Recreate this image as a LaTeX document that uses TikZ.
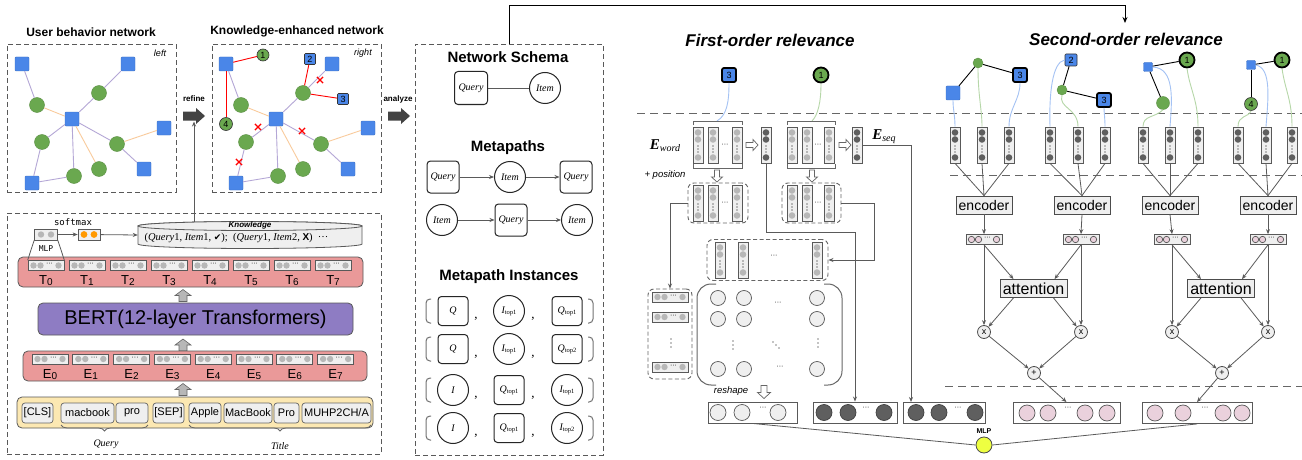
\documentclass[tikz,border=0pt]{standalone}
\usepackage{fontspec}
\setmainfont{Liberation Sans}
\newfontfamily\serifit{Liberation Serif}
\newfontfamily\djv{DejaVu Sans}
\newfontfamily\monof{DejaVu Sans Mono}
\usetikzlibrary{shapes.misc,decorations.pathreplacing,arrows.meta,calc}
\definecolor{qblue}{HTML}{4A86E8}
\definecolor{qgreen}{HTML}{6AA84F}
\definecolor{epurp}{HTML}{B4A7D6}
\definecolor{eorng}{HTML}{F9CB9C}
\definecolor{boxg}{HTML}{EFEFEF}
\definecolor{dotg}{HTML}{B7B7B7}
\definecolor{dotd}{HTML}{5F5F5F}
\definecolor{linec}{HTML}{5A5A5A}
\definecolor{pinkr}{HTML}{EA9999}
\definecolor{bertp}{HTML}{8E7CC3}
\definecolor{tokyel}{HTML}{FCE8B2}
\definecolor{pinkc}{HTML}{EAD1DC}
\definecolor{lbl}{HTML}{A4C2F4}
\definecolor{lgr}{HTML}{B6D7A8}
\definecolor{darr}{HTML}{434343}
\definecolor{mlpy}{HTML}{EEFF41}
\definecolor{orng}{HTML}{FF9900}
\newcommand{\fsz}[1]{\fontsize{#1}{#1}\selectfont}
\newcommand{\tsub}[1]{\raisebox{-1pt}{\upshape\fsz{6.5}#1}}
\newcommand{\lowdig}[2]{{\fsz{13}#1}\raisebox{-1pt}{\fsz{10}#2}}
\tikzset{
  sqn/.style={rectangle, fill=qblue, draw=qblue!85!black, line width=0.4pt, minimum size=14pt, inner sep=0pt, rounded corners=1pt},
  gcn/.style={circle, fill=qgreen, draw=qgreen!85!black, line width=0.4pt, minimum size=15pt, inner sep=0pt},
  numc/.style={circle, fill=qgreen, draw=black!80, line width=0.6pt, inner sep=0pt, font=\fsz{9}},
  nums/.style={rectangle, fill=qblue, draw=black!80, line width=0.6pt, inner sep=0pt, rounded corners=1pt, font=\fsz{9}},
  nsq3/.style={rectangle, fill=qblue, draw=black, line width=1.8pt, minimum size=14pt, inner sep=0pt, rounded corners=2pt, font=\fsz{9}},
  nci1/.style={circle, fill=qgreen, draw=black, line width=1.8pt, minimum size=15pt, inner sep=0pt, font=\fsz{9}},
  pe/.style={draw=epurp, line width=0.9pt},
  oe/.style={draw=eorng, line width=0.9pt},
  re/.style={draw=red, line width=0.9pt},
  ke/.style={draw=black, line width=0.9pt},
  xm/.style={cross out, draw=red, line width=1.2pt, minimum size=5pt, inner sep=0pt},
  dbox/.style={draw=black!65, dash pattern=on 5pt off 3pt, line width=0.9pt, inner sep=0pt},
  dgrp/.style={draw=black!60, dash pattern=on 4pt off 2.5pt, line width=0.9pt, rounded corners=6pt, inner sep=0pt},
  dsep/.style={draw=black!60, line width=1pt, dash pattern=on 8pt off 5pt},
  ttl/.style={font=\bfseries\fsz{12}},
  bigttl/.style={font=\bfseries\fsz{15}},
  relttl/.style={font=\bfseries\itshape\fsz{17}},
  vcb/.style={rectangle, draw=black!65, fill=boxg, line width=0.7pt, minimum width=10pt, minimum height=36pt, inner sep=0pt},
  hvb/.style={rectangle, draw=black!65, fill=boxg, line width=0.7pt, minimum width=36pt, minimum height=10pt, inner sep=0pt},
  rowb/.style={rectangle, draw=black!65, line width=0.8pt, rounded corners=5pt, inner sep=0pt},
  tok/.style={rectangle, draw=black!60, fill=boxg, line width=0.7pt, rounded corners=3pt, minimum height=20pt, inner sep=0pt, font=\fsz{11}},
  qb/.style={rectangle, rounded corners=3.5pt, draw=black!85, line width=1pt, fill=white, inner sep=0pt, font=\serifit\itshape\fsz{10}},
  ic/.style={circle, draw=black!85, line width=1pt, fill=white, inner sep=0pt, font=\serifit\itshape\fsz{10}},
  qbi/.style={qb, minimum width=30pt, minimum height=29pt},
  ici/.style={ic, minimum size=31pt},
  brk/.style={draw=black!55, line width=1pt, rounded corners=4pt},
  brk2/.style={draw=black!60, line width=0.8pt},
  brk3/.style={draw=black!60, line width=1pt, rounded corners=14pt},
  arr/.style={draw=linec, line width=0.8pt, -{Stealth[length=5pt, width=4pt]}},
  ln/.style={draw=linec, line width=0.8pt},
  enc/.style={rectangle, draw=black!70, fill=boxg, line width=0.8pt, minimum width=56pt, minimum height=18pt, inner sep=0pt, font=\fsz{14}},
  att/.style={rectangle, draw=black!70, fill=boxg, line width=0.8pt, minimum width=67pt, minimum height=18pt, inner sep=0pt, font=\fsz{16}},
  xo/.style={circle, draw=black!70, fill=boxg, line width=0.8pt, minimum size=13pt, inner sep=0pt, font=\fsz{9}},
  bb/.style={rectangle, draw=black!65, line width=0.9pt, fill=white, inner sep=0pt, minimum height=21pt},
  lc/.style={fill=boxg, draw=black!65, line width=0.7pt},
  dc/.style={fill=dotd, draw=black!75, line width=0.7pt},
  pc/.style={fill=pinkc, draw=black!65, line width=0.7pt},
  hollow/.style={draw=black!60, fill=white, line width=0.7pt},
  dotsml/.style={font=\fsz{7}, inner sep=0pt},
  lblc/.style={draw=lbl, line width=0.9pt},
  lgrc/.style={draw=lgr, line width=0.9pt}
}
% vertical vector column
\newcommand{\vcol}[4]{%
  \node[vcb] (#1) at (#2,#3) {};
  \fill[#4] (#2,#3-12.5) circle (3.3pt) (#2,#3-5.5) circle (3.3pt) (#2,#3+12.5) circle (3.3pt);
  \fill[black] (#2,#3+1) circle (0.55pt) (#2,#3+4) circle (0.55pt) (#2,#3+7) circle (0.55pt);
}
% horizontal vector box
\newcommand{\hvec}[4]{%
  \node[hvb] (#1) at (#2,#3) {};
  \path[#4] (#2-12.5,#3) circle (3.2pt) (#2-5.5,#3) circle (3.2pt) (#2+12.5,#3) circle (3.2pt);
  \node[dotsml] (#1t) at (#2+3.5,#3-1) {···};
}
% block arrows: cx, cy, length, body half, head half, head length, style
\newcommand{\harrow}[7]{\path[#7] (#1-#3/2,#2-#4) -- (#1+#3/2-#6,#2-#4) -- (#1+#3/2-#6,#2-#5) -- (#1+#3/2,#2) -- (#1+#3/2-#6,#2+#5) -- (#1+#3/2-#6,#2+#4) -- (#1-#3/2,#2+#4) -- cycle;}
\newcommand{\vdarrow}[7]{\path[#7] (#1-#4,#2-#3/2) -- (#1-#4,#2+#3/2-#6) -- (#1-#5,#2+#3/2-#6) -- (#1,#2+#3/2) -- (#1+#5,#2+#3/2-#6) -- (#1+#4,#2+#3/2-#6) -- (#1+#4,#2-#3/2) -- cycle;}
\newcommand{\vuarrow}[7]{\path[#7] (#1-#4,#2+#3/2) -- (#1-#4,#2-#3/2+#6) -- (#1-#5,#2-#3/2+#6) -- (#1,#2-#3/2) -- (#1+#5,#2-#3/2+#6) -- (#1+#4,#2-#3/2+#6) -- (#1+#4,#2+#3/2) -- cycle;}
\newcommand{\vdts}[2]{\fill[black] (#1,#2-4) circle (0.6pt) (#1,#2) circle (0.6pt) (#1,#2+4) circle (0.6pt);}
% base network
\newcommand{\basenet}[2]{%
\begin{scope}[xshift=#2pt]
  \node[sqn] (#1a1) at (22,64) {};
  \node[sqn] (#1a2) at (128,64) {};
  \node[sqn] (#1c) at (72,119) {};
  \node[sqn] (#1a3) at (164,128) {};
  \node[sqn] (#1a4) at (144,169) {};
  \node[sqn] (#1a5) at (32,183) {};
  \node[gcn] (#1g1) at (37,105) {};
  \node[gcn] (#1g2) at (99,93) {};
  \node[gcn] (#1g3) at (42,142) {};
  \node[gcn] (#1g4) at (117,144) {};
  \node[gcn] (#1g5) at (74,176) {};
  \node[gcn] (#1g6) at (99,169) {};
  \draw[pe] (#1a1) -- (#1g1);
  \draw[oe] (#1g1) -- (#1c);
  \draw[pe] (#1c) -- (#1g2);
  \draw[pe] (#1g2) -- (#1a2);
  \draw[pe] (#1c) -- (#1g3);
  \draw[pe] (#1g3) -- (#1a5);
  \draw[pe] (#1a5) -- (#1g5);
  \draw[pe] (#1g5) -- (#1c);
  \draw[oe] (#1c) -- (#1g6);
  \draw[pe] (#1c) -- (#1g4);
  \draw[oe] (#1g4) -- (#1a3);
  \draw[pe] (#1g4) -- (#1a4);
\end{scope}}
\newcommand{\instrow}[8]{%
  \node[#3] (in#2a) at (453,#1) {#4};
  \node[#5] (in#2b) at (509,#1) {#6};
  \node[#7] (in#2c) at (567,#1) {#8};
  \node[font=\serifit\fsz{13}, inner sep=0pt] (in#2k) at (476,#1+8) {,};
  \node[font=\serifit\fsz{13}, inner sep=0pt] (in#2l) at (533,#1+8) {,};
  \draw[brk] (431,#1-12) -- (426,#1-12) -- (426,#1+12) -- (431,#1+12);
  \draw[brk] (588,#1-12) -- (593,#1-12) -- (593,#1+12) -- (588,#1+12);
}
\begin{document}
\begin{tikzpicture}[x=1pt,y=-1pt]
\useasboundingbox (0,0) rectangle (1302,460);
\fill[white] (0,0) rectangle (1302,460);

% ================= networks =================
\node[ttl] (t1) at (91,32) {User behavior network};
\node[ttl] (t2) at (297,31) {Knowledge-enhanced network};
\node[dbox, minimum width=169pt, minimum height=148pt] (lb1) at (91.5,118) {};
\node[dbox, minimum width=169pt, minimum height=148pt] (lb2) at (296.5,118) {};
\node[font=\itshape\fsz{9}] (lft) at (160,53) {left};
\node[font=\itshape\fsz{9}] (rgt) at (363,53) {right};
\basenet{l}{0}
\basenet{r}{204}
\node[numc, minimum size=12pt] (r1) at (263,55) {1};
\node[nums, minimum size=11pt] (r2) at (310,59) {2};
\node[nums, minimum size=11pt] (r3) at (343,99) {3};
\node[numc, minimum size=13pt] (r4) at (226,124) {4};
\draw[re] (ra1) -- (r1);
\draw[re] (ra1) -- (r4);
\draw[re] (rg2) -- (r2);
\draw[re] (rg2) -- (r3);
\node[xm] (x1) at (320,80) {};
\node[xm] (x2) at (258,127) {};
\node[xm] (x3) at (239,162) {};
\node[xm] (x4) at (302,131) {};

\node[font=\bfseries\fsz{8}] (refl) at (194,99) {refine};
\harrow{194}{116}{22}{4.5}{8}{9}{fill=darr}
\node[font=\bfseries\fsz{8}] (anl) at (398,99) {analyze};
\harrow{399}{116}{22}{4.5}{8}{9}{fill=darr}

% ================= BERT box =================
\node[dbox, minimum width=374pt, minimum height=241pt] (bbox) at (194,333.5) {};
\node[font=\monof\fsz{9}] (smx) at (73,222) {softmax};
\node[hvb, minimum width=23pt, minimum height=11pt] (mlpb) at (46,234.5) {};
\fill[dotg] (41,234.5) circle (3.2pt) (51,234.5) circle (3.2pt);
\node[font=\monof\fsz{8}] (mlpl) at (46,249) {MLP};
\node[hvb, minimum width=22pt, minimum height=11pt] (smb) at (89,234.5) {};
\fill[orng] (84,234.5) circle (3.4pt) (94,234.5) circle (3.4pt);
% cylinder
\node[minimum width=224pt, minimum height=26pt, inner sep=0pt] (kn) at (250,235) {};
\draw[draw=black!65, fill=boxg, line width=0.8pt] (138,226) -- (138,244) arc[start angle=180, end angle=0, x radius=112, y radius=4.5] -- (362,226) arc[start angle=0, end angle=-180, x radius=112, y radius=4.5] -- cycle;
\draw[draw=black!65, fill=boxg, line width=0.8pt] (250,226) ellipse [x radius=112, y radius=4.5];
\node[font=\bfseries\itshape\fsz{8}] (knt) at (250,225.5) {Knowledge};
\node[font=\serifit\fsz{10.5}, anchor=west] (knx) at (141,238) {(\textit{Query}1, \textit{Item}1, {\djv\fsz{9}✔});\ \ (\textit{Query}1, \textit{Item}2, {\rmfamily\bfseries\fsz{10}X})\ \ ···};
\draw[arr] (mlpb) -- (smb);
\draw[arr] (smb) -- (kn.west);
\coordinate (cyltop) at (194,221.5);
\coordinate (refb) at (194,121.5);
\draw[arr] (cyltop) -- (refb);

% T row
\node[rowb, fill=pinkr, minimum width=345pt, minimum height=30pt] (trow) at (190.5,272) {};
\foreach \i in {0,...,7}{
  \pgfmathsetmacro{\xx}{46+41*\i}
  \hvec{tb\i}{\xx}{265.5}{fill=dotg}
  \node (tl\i) at (\xx,281) {\lowdig{T}{\i}};
}
\draw[ln] (mlpb.south west) -- (tb0.north west);
\draw[ln] (mlpb.south east) -- (tb0.north east);
\vuarrow{183}{295.5}{12}{4}{8}{6}{fill=dotg, draw=black!60, line width=0.6pt}
\node[rowb, fill=bertp, minimum width=315pt, minimum height=32pt, font=\fsz{20}] (bert) at (195.5,319) {BERT(12-layer Transformers)};
\vuarrow{183}{345}{12}{4}{8}{6}{fill=dotg, draw=black!60, line width=0.6pt}
\node[rowb, fill=pinkr, minimum width=344pt, minimum height=30pt] (erow) at (195,366) {};
\foreach \i in {0,...,7}{
  \pgfmathsetmacro{\xx}{50+40.8*\i}
  \hvec{eb\i}{\xx}{359}{fill=dotg}
  \node (el\i) at (\xx,375) {\lowdig{E}{\i}};
}
\vuarrow{183}{389.5}{12}{4}{8}{6}{fill=dotg, draw=black!60, line width=0.6pt}
\node[rowb, fill=tokyel, minimum width=356pt, minimum height=31pt] (tokrow) at (195,412.5) {};
\node[tok, minimum width=31pt] (k0) at (37.5,413) {[CLS]};
\node[tok, minimum width=53pt] (k1) at (87.5,413) {macbook};
\node[tok, minimum width=32pt] (k2) at (132,413) {pro};
\node[tok, minimum width=31pt] (k3) at (168.5,413) {[SEP]};
\node[tok, minimum width=32pt] (k4) at (205,413) {Apple};
\node[tok, minimum width=48pt] (k5) at (248,413) {MacBook};
\node[tok, minimum width=25pt] (k6) at (286.5,413) {Pro};
\node[tok, minimum width=69pt] (k7) at (336.5,413) {MUHP2CH/A};
\draw[draw=black!60, line width=0.8pt, decorate, decoration={brace, mirror, amplitude=6pt}] (61,425) -- (148,425);
\draw[draw=black!60, line width=0.8pt, decorate, decoration={brace, mirror, amplitude=6pt}] (189,425) -- (371,425);
\node[font=\serifit\itshape\fsz{10}] (qlab) at (106,444) {Query};
\node[font=\serifit\itshape\fsz{10}] (tlab) at (280,446) {Title};

% ================= middle panel =================
\node[dbox, minimum width=188pt, minimum height=411pt] (midbox) at (509,249.5) {};
\node[bigttl] (nst) at (508,57) {Network Schema};
\node[qb, minimum size=33pt] (ns1) at (471,88) {Query};
\node[ic, minimum size=31pt] (ns2) at (545,88) {Item};
\draw[ln, line width=0.9pt] (ns1) -- (ns2);
\node[bigttl] (mpt) at (508,148) {Metapaths};
\node[qb, minimum size=32pt] (m11) at (443,177) {Query};
\node[ic, minimum size=31pt] (m12) at (510,177) {Item};
\node[qb, minimum size=32pt] (m13) at (576,177) {Query};
\draw[arr] (m11) -- (m12);
\draw[arr] (m12) -- (m13);
\node[ic, minimum size=31pt] (m21) at (442,220) {Item};
\node[qb, minimum size=32pt] (m22) at (511,220) {Query};
\node[ic, minimum size=31pt] (m23) at (577,220) {Item};
\draw[arr] (m21) -- (m22);
\draw[arr] (m22) -- (m23);
\node[bigttl] (mit) at (509,277) {Metapath Instances};
\instrow{311}{1}{qbi}{Q}{ici}{I\tsub{top1}}{qbi}{Q\tsub{top1}}
\instrow{349}{2}{qbi}{Q}{ici}{I\tsub{top1}}{qbi}{Q\tsub{top2}}
\instrow{390}{3}{ici}{I}{qbi}{Q\tsub{top1}}{ici}{I\tsub{top1}}
\instrow{428}{4}{ici}{I}{qbi}{Q\tsub{top1}}{ici}{I\tsub{top2}}

% top connector
\coordinate (soarr) at (1125,23);
\draw[draw=black, line width=1pt, -{Stealth[length=6pt, width=5pt]}] (midbox.north) -- (509,6) -- (1125,6) -- (soarr);

% ================= first-order =================
\node[relttl] (fot) at (770,40) {First-order relevance};
\node[relttl] (sot) at (1126,39) {Second-order relevance};
\draw[dsep] (637,113) -- (1302,113);
\draw[dsep] (950,175) -- (1302,175);
\draw[dsep] (945,386) -- (1302,386);

\node[nsq3] (f3) at (729,75) {3};
\node[nci1] (f1) at (821,75) {1};
\coordinate (g1t) at (717,121);
\coordinate (g2t) at (812,121);
\draw[lblc] (f3.south) .. controls (729,102) and (727,115) .. (g1t);
\draw[lgrc] (f1.south) .. controls (821,102) and (818,115) .. (g2t);
\draw[brk2] (693,125) -- (693,121) -- (742,121) -- (742,125);
\draw[brk2] (693,164) -- (693,168) -- (742,168) -- (742,164);
\draw[brk2] (787,125) -- (787,121) -- (835,121) -- (835,125);
\draw[brk2] (787,164) -- (787,168) -- (835,168) -- (835,164);
\vcol{c11}{698}{145}{dotg}
\vcol{c12}{713}{145}{dotg}
\vcol{c13}{737}{145}{dotg}
\node[dotsml] (c1d) at (725,145) {···};
\harrow{752}{145}{12}{2.5}{5.5}{5}{hollow}
\vcol{d1}{766}{145}{dotd}
\vcol{c21}{792}{145}{dotg}
\vcol{c22}{807}{145}{dotg}
\vcol{c23}{829}{145}{dotg}
\node[dotsml] (c2d) at (818,145) {···};
\harrow{845}{145}{12}{2.5}{5.5}{5}{hollow}
\vcol{d2}{857}{145}{dotd}
\node (ewl) at (665,146) {{\serifit\bfseries\itshape\fsz{15}E}\raisebox{-2pt}{\serifit\itshape\fsz{10}word}};
\node (esl) at (884,137) {{\serifit\bfseries\itshape\fsz{15}E}\raisebox{-2pt}{\serifit\itshape\fsz{10}seq}};
\node[font=\itshape\fsz{9.5}] (posl) at (665,175) {+ position};
\vdarrow{717}{176}{12}{2.5}{5.5}{5}{hollow}
\vdarrow{812}{176}{12}{2.5}{5.5}{5}{hollow}
\node[dgrp, minimum width=60pt, minimum height=40pt] (pg1) at (718,203) {};
\vcol{p11}{698}{203}{dotg}
\vcol{p12}{713}{203}{dotg}
\vcol{p13}{737}{203}{dotg}
\node[dotsml] (p1d) at (725,203) {···};
\node[dgrp, minimum width=59pt, minimum height=40pt] (pg2) at (811.5,203) {};
\vcol{p21}{792}{203}{dotg}
\vcol{p22}{807}{203}{dotg}
\vcol{p23}{829}{203}{dotg}
\node[dotsml] (p2d) at (818,203) {···};

% column matrix group
\node[dgrp, minimum width=121pt, minimum height=41pt] (cm) at (767.5,260) {};
\vcol{m1}{720}{260}{dotg}
\vcol{m2}{743}{260}{dotg}
\vcol{m3}{817}{260}{dotg}
\node[dotsml] (md) at (774,256) {···};
% circle matrix
\draw[brk3] (716,284) -- (697,284) -- (697,385) -- (716,385);
\draw[brk3] (824,284) -- (842,284) -- (842,385) -- (824,385);
\foreach \xx [count=\i] in {718,744,817}{
  \foreach \yy [count=\j] in {298,319,369}{
    \node[circle, lc, minimum size=15pt, inner sep=0pt] (cc\i\j) at (\xx,\yy) {};
  }
}
\node[dotsml] (ccd1) at (778,303) {···};
\node[dotsml] (ccd2) at (780,367) {···};
\vdts{733}{345}
\vdts{818}{343}
\fill[black] (773,342) circle (0.6pt) (776,345) circle (0.6pt) (779,348) circle (0.6pt);
% left group
\node[dgrp, minimum width=44pt, minimum height=90pt] (lgp) at (670,334) {};
\hvec{lr1}{670}{297}{fill=dotg}
\hvec{lr2}{670}{317}{fill=dotg}
\hvec{lr3}{670}{367}{fill=dotg}
\vdts{671}{343}
\node[font=\itshape\fsz{9.5}] (rsh) at (731,391) {reshape};
\vdarrow{764}{392}{13}{3}{6.5}{6}{hollow}

% bottom boxes
\node[bb, minimum width=89pt] (b1) at (752.5,412.5) {};
\path[lc] (718,412.5) circle (8pt) (742,412.5) circle (8pt) (778,412.5) circle (8pt);
\node[dotsml] (b1d) at (763,408) {···};
\node[bb, minimum width=84pt] (b2) at (855,412.5) {};
\path[dc] (824,412.5) circle (8pt) (848,412.5) circle (8pt) (884,412.5) circle (8pt);
\node[dotsml] (b2d) at (866,408) {···};
\node[bb, minimum width=82pt] (b3) at (944,412.5) {};
\path[dc] (916,412.5) circle (8pt) (939,412.5) circle (8pt) (975,412.5) circle (8pt);
\node[dotsml] (b3d) at (958,408) {···};
\node[bb, minimum width=107pt] (b4) at (1066.5,413) {};
\path[pc] (1027,413) circle (8pt) (1048,413) circle (8pt) (1085,413) circle (8pt) (1107,413) circle (8pt);
\node[dotsml] (b4d) at (1068,408) {···};
\node[bb, minimum width=110pt] (b5) at (1197,413) {};
\path[pc] (1155,413) circle (8pt) (1183,413) circle (8pt) (1223,413) circle (8pt) (1242,413) circle (8pt);
\node[dotsml] (b5d) at (1205,408) {···};
\node[circle, fill=mlpy, draw=black!70, line width=0.8pt, minimum size=16pt, inner sep=0pt] (mlpf) at (984,445) {};
\node[font=\bfseries\fsz{7}] (mlpfl) at (984,431) {MLP};
\draw[ln] (b1.south) -- (mlpf.west);
\draw[ln] (b5.south) -- (mlpf.east);

% first-order connectors
\coordinate (b3in) at (911,402);
\draw[arr] (pg1.west) -| (lgp.north);
\draw[arr] (d1.south) -- (766,232) -| (b2.north);
\draw[arr] (pg2.east) -- (874,203) |- (cm.east);
\draw[arr] (d2.east) -| (b3in);

% ================= second-order =================
% group A
\node[gcn, minimum size=10pt] (gA) at (978,63) {};
\node[sqn] (sA) at (953,93) {};
\node[nsq3] (tA) at (1020,75) {3};
\draw[ke] (sA) -- (gA);
\draw[ke] (gA) -- (tA);
\vcol{cA1}{955}{145}{dotd}
\vcol{cA2}{982}{145}{dotd}
\vcol{cA3}{1009}{145}{dotd}
\draw[lblc] (sA.south) .. controls (953,110) and (955,115) .. (cA1.north);
\draw[lgrc] (gA.south) .. controls (978,95) and (982,110) .. (cA2.north);
\draw[lblc] (tA.south) .. controls (1020,100) and (1009,108) .. (cA3.north);
\node[enc] (eA) at (984,205) {encoder};
% group B
\node[nums, minimum size=12pt] (tB) at (1071,60) {2};
\node[gcn, minimum size=10pt] (gB) at (1062,90) {};
\node[nsq3] (uB) at (1104,100) {3};
\draw[ke] (tB) -- (gB);
\draw[ke] (gB) -- (uB);
\vcol{cB1}{1050}{145}{dotd}
\vcol{cB2}{1078}{145}{dotd}
\vcol{cB3}{1105}{145}{dotd}
\draw[lblc] (tB.west) .. controls (1052,62) and (1049,95) .. (cB1.north);
\draw[lgrc] (gB.south) .. controls (1058,108) and (1078,108) .. (cB2.north);
\draw[lblc] (uB.south) .. controls (1104,112) and (1105,118) .. (cB3.north);
\node[enc] (eB) at (1082,205) {encoder};
% group C
\node[sqn, minimum size=9pt] (sC) at (1148,67) {};
\node[nci1] (oC) at (1187,60) {1};
\node[gcn, minimum size=13pt] (gC) at (1163,103) {};
\draw[ke] (sC) -- (oC);
\draw[ke] (sC) -- (gC);
\vcol{cC1}{1143}{145}{dotd}
\vcol{cC2}{1170}{145}{dotd}
\vcol{cC3}{1198}{145}{dotd}
\draw[lgrc] (gC.south) .. controls (1155,118) and (1143,115) .. (cC1.north);
\draw[lblc] (sC.east) .. controls (1175,68) and (1172,100) .. (cC2.north);
\draw[lgrc] (oC.south) .. controls (1190,90) and (1198,100) .. (cC3.north);
\node[enc] (eC) at (1170,205) {encoder};
% group D
\node[sqn, minimum size=9pt] (sD) at (1251,65) {};
\node[nci1] (oD) at (1282,60) {1};
\node[numc, minimum size=13pt] (fD) at (1251,104) {4};
\draw[ke] (sD) -- (oD);
\draw[ke] (sD) -- (fD);
\vcol{cD1}{1238}{145}{dotd}
\vcol{cD2}{1266}{145}{dotd}
\vcol{cD3}{1292}{145}{dotd}
\draw[lgrc] (fD.south) .. controls (1248,118) and (1238,115) .. (cD1.north);
\draw[lblc] (sD.east) .. controls (1272,68) and (1268,100) .. (cD2.north);
\draw[lgrc] (oD.south) .. controls (1285,90) and (1292,100) .. (cD3.north);
\node[enc] (eD) at (1268,205) {encoder};
\foreach \g in {A,B,C,D}{
  \foreach \k in {1,2,3}{
    \draw[ln] (c\g\k.south) -- (e\g.north);
  }
}
% pink vectors
\hvec{pkA}{984}{239.5}{pc}
\hvec{pkB}{1081}{239.5}{pc}
\hvec{pkC}{1172}{239.5}{pc}
\hvec{pkD}{1268}{239.5}{pc}
\draw[arr] (eA.south) -- (pkA.north);
\draw[arr] (eB.south) -- (pkB.north);
\draw[arr] (eC.south) -- (pkC.north);
\draw[arr] (eD.south) -- (pkD.north);
% attention blocks
\node[att] (at1) at (1033.5,288.5) {attention};
\node[xo] (xa1) at (984,332) {x};
\node[xo] (xa2) at (1081,332) {x};
\node[xo] (pl1) at (1034,373) {+};
\draw[arr] (pkA.south) -- (xa1.north);
\draw[arr] (pkB.south) -- (xa2.north);
\draw[arr] (pkA.south) -- ($(at1.north)+(-20,0)$);
\draw[arr] (pkB.south) -- ($(at1.north)+(21,0)$);
\draw[arr] ($(at1.south)+(-20,0)$) -- (xa1);
\draw[arr] ($(at1.south)+(20,0)$) -- (xa2);
\draw[arr] (xa1) -- (pl1);
\draw[arr] (xa2) -- (pl1);
\draw[arr] (pl1) -- (b4.north);
\node[att] (at2) at (1221,288.5) {attention};
\node[xo] (xb1) at (1172,332) {x};
\node[xo] (xb2) at (1268,332) {x};
\node[xo] (pl2) at (1222,373) {+};
\draw[arr] (pkC.south) -- (xb1.north);
\draw[arr] (pkD.south) -- (xb2.north);
\draw[arr] (pkC.south) -- ($(at2.north)+(-20,0)$);
\draw[arr] (pkD.south) -- ($(at2.north)+(21,0)$);
\draw[arr] ($(at2.south)+(-20,0)$) -- (xb1);
\draw[arr] ($(at2.south)+(20,0)$) -- (xb2);
\draw[arr] (xb1) -- (pl2);
\draw[arr] (xb2) -- (pl2);
\draw[arr] (pl2) -- (b5.north);
\end{tikzpicture}
\end{document}
